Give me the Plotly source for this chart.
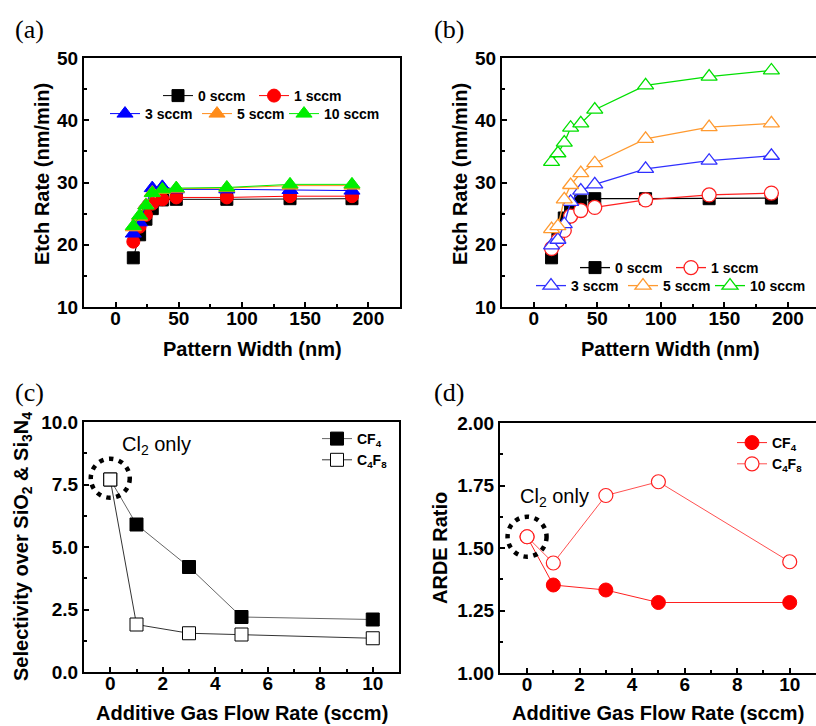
import plotly.graph_objects as go

# ---------------- data ----------------
pattern_width = [14, 19, 24, 29, 37, 48, 88, 138, 187]

a_0sccm = [17.9, 21.6, 24.1, 25.8, 27.2, 27.3, 27.3, 27.4, 27.4]
a_1sccm = [20.5, 22.9, 24.8, 26.6, 27.3, 27.6, 27.6, 27.8, 27.8]
a_3sccm = [21.8, 23.6, 26.4, 29.1, 29.3, 28.9, 28.9, 28.8, 28.7]
a_5sccm = [22.8, 24.5, 26.4, 28.4, 28.8, 29.0, 29.1, 29.5, 29.5]
a_10sccm = [23.0, 24.7, 26.3, 28.3, 28.9, 29.1, 29.2, 29.7, 29.7]

b_0sccm = [17.9, 21.5, 24.3, 26.0, 27.0, 27.4, 27.4, 27.4, 27.5]
b_1sccm = [19.4, 20.7, 22.3, 24.6, 25.5, 26.0, 27.2, 28.0, 28.3]
b_3sccm = [19.9, 20.8, 23.3, 26.9, 28.7, 29.7, 32.2, 33.5, 34.3]
b_5sccm = [22.5, 23.0, 27.3, 29.6, 31.5, 33.1, 37.0, 38.9, 39.5]
b_10sccm = [33.3, 34.7, 36.4, 38.8, 39.5, 41.7, 45.6, 47.0, 48.0]

series_labels = ["0 sccm", "1 sccm", "3 sccm", "5 sccm", "10 sccm"]

flow_rate = [0, 1, 3, 5, 10]
sel_cf4 = [7.7, 5.9, 4.2, 2.2, 2.1]
sel_c4f8 = [7.7, 1.9, 1.55, 1.5, 1.35]
arde_cf4 = [1.545, 1.352, 1.332, 1.282, 1.282]
arde_c4f8 = [1.545, 1.44, 1.71, 1.765, 1.445]

# ---------------- helpers ----------------
W, H = 816, 726
def px(x):
    return x / W
def py(y):
    return 1 - y / H

FONT = "Liberation Sans"
BOLD_TICK = dict(family=FONT, size=19, color="black", weight="bold")
BOLD_TITLE = dict(family=FONT, size=20, color="black", weight="bold")

colors = ["#000000", "#FF0000", "#0000FF", "#FF8C1A", "#00EE00"]
colors_b = ["#000000", "#FF2020", "#3030FF", "#FF9A30", "#00E000"]
symbols = ["square", "circle", "triangle-up", "triangle-up", "triangle-up"]
sizes = [12, 13, 14, 14, 14]
legend_a = ["legend", "legend", "legend2", "legend2", "legend7"]
legend_b = ["legend3", "legend3", "legend4", "legend4", "legend8"]

fig = go.Figure()

a_sets = [a_0sccm, a_1sccm, a_3sccm, a_5sccm, a_10sccm]
for i, (ys, lab) in enumerate(zip(a_sets, series_labels)):
    fig.add_trace(go.Scatter(
        x=pattern_width, y=ys, name=lab, mode="lines+markers",
        xaxis="x", yaxis="y",
        line=dict(color=colors[i], width=1),
        marker=dict(symbol=symbols[i], size=sizes[i], color=colors[i],
                    line=dict(color=colors[i], width=1)),
        legend=legend_a[i],
    ))

b_sets = [b_0sccm, b_1sccm, b_3sccm, b_5sccm, b_10sccm]
for i, (ys, lab) in enumerate(zip(b_sets, series_labels)):
    if i == 0:
        mk = dict(symbol="square", size=12, color="black", line=dict(color="black", width=1))
    else:
        mk = dict(symbol=symbols[i], size=14, color="white",
                  line=dict(color=colors_b[i], width=1.3))
    fig.add_trace(go.Scatter(
        x=pattern_width, y=ys, name=lab, mode="lines+markers",
        xaxis="x2", yaxis="y2",
        line=dict(color=colors_b[i], width=1.3),
        marker=mk,
        legend=legend_b[i],
    ))

# (c)
fig.add_trace(go.Scatter(
    x=flow_rate, y=sel_cf4, name="CF<sub>4</sub>", mode="lines+markers",
    xaxis="x3", yaxis="y3", line=dict(color="#666666", width=1),
    marker=dict(symbol="square", size=13, color="black", line=dict(color="black", width=1)),
    legend="legend5"))
fig.add_trace(go.Scatter(
    x=flow_rate, y=sel_c4f8, name="C<sub>4</sub>F<sub>8</sub>", mode="lines+markers",
    xaxis="x3", yaxis="y3", line=dict(color="#333333", width=1),
    marker=dict(symbol="square", size=13, color="white", line=dict(color="black", width=1)),
    legend="legend5"))

# (d)
fig.add_trace(go.Scatter(
    x=flow_rate, y=arde_cf4, name="CF<sub>4</sub>", mode="lines+markers",
    xaxis="x4", yaxis="y4", line=dict(color="#FF2020", width=1),
    marker=dict(symbol="circle", size=14, color="#FF0000", line=dict(color="#FF0000", width=1)),
    legend="legend6"))
fig.add_trace(go.Scatter(
    x=flow_rate, y=arde_c4f8, name="C<sub>4</sub>F<sub>8</sub>", mode="lines+markers",
    xaxis="x4", yaxis="y4", line=dict(color="#FF5050", width=1),
    marker=dict(symbol="circle", size=14, color="white", line=dict(color="#FF2020", width=1.2)),
    legend="legend6"))

def xax(domain, rng, dtick, minor_dtick, anchor, tickformat=None):
    d = dict(domain=domain, range=rng, anchor=anchor, dtick=dtick, tick0=0,
             ticks="inside", ticklen=5, tickwidth=2, tickcolor="black",
             showline=True, linecolor="black", linewidth=2, mirror=True,
             showgrid=False, zeroline=False, tickfont=BOLD_TICK, automargin=False,
             ticklabelstandoff=-7,
             minor=dict(ticks="inside", ticklen=3, tickwidth=2, dtick=minor_dtick, tickcolor="black", showgrid=False))
    if tickformat:
        d["tickformat"] = tickformat
    return d

def yax(domain, rng, dtick, minor_dtick, anchor, tickformat=None, mirror=True):
    d = dict(domain=domain, range=rng, anchor=anchor, dtick=dtick, tick0=0,
             ticks="inside", ticklen=5, tickwidth=2, tickcolor="black",
             showline=True, linecolor="black", linewidth=2, mirror=mirror,
             showgrid=False, zeroline=False, tickfont=BOLD_TICK, automargin=False,
             minor=dict(ticks="inside", ticklen=3, tickwidth=2, dtick=minor_dtick, tickcolor="black", showgrid=False))
    if tickformat:
        d["tickformat"] = tickformat
    return d

ya_dom = [py(307), py(58)]
yc_dom = [py(672), py(422)]
yd_dom = [py(673), py(423)]

def cx(x):
    return x / W

legend_common = dict(orientation="h", bgcolor="rgba(0,0,0,0)", borderwidth=0,
                     font=dict(family=FONT, size=14, color="black", weight="bold"),
                     itemwidth=30, xanchor="left", yanchor="middle",
                     xref="container", yref="container")
legend_v = dict(bgcolor="rgba(0,0,0,0)", borderwidth=0, itemwidth=30,
                font=dict(family=FONT, size=14, color="black", weight="bold"),
                xanchor="left", yanchor="top", xref="container", yref="container")

fig.update_layout(
    width=W, height=H, margin=dict(l=0, r=0, t=0, b=0, autoexpand=False),
    paper_bgcolor="white", plot_bgcolor="white",
    xaxis=xax([px(84), px(400)], [-25, 225], 50, 25, "y"),
    yaxis=yax(ya_dom, [10, 50], 10, 5, "x"),
    xaxis2=xax([px(502), 1.0], [-25, 222.1], 50, 25, "y2"),
    yaxis2=yax(ya_dom, [10, 50], 10, 5, "x2", mirror=False),
    xaxis3=xax([px(84), px(399)], [-1, 11], 2, 1, "y3"),
    yaxis3=yax(yc_dom, [0, 10], 2.5, 1.25, "x3", tickformat=".1f"),
    xaxis4=xax([px(500), 1.0], [-1.03, 11], 2, 1, "y4"),
    yaxis4=yax(yd_dom, [1, 2], 0.25, 0.125, "x4", tickformat=".2f", mirror=False),
    legend=dict(legend_common, x=cx(158), y=py(96), entrywidth=51),
    legend2=dict(legend_common, x=cx(105), y=py(114), entrywidth=47),
    legend7=dict(legend_common, x=cx(284), y=py(114)),
    legend3=dict(legend_common, x=cx(575), y=py(268), entrywidth=51),
    legend4=dict(legend_common, x=cx(531), y=py(286), entrywidth=47),
    legend8=dict(legend_common, x=cx(710), y=py(286)),
    legend5=dict(legend_v, x=cx(317), y=py(423)),
    legend6=dict(legend_v, x=cx(732), y=py(427)),
    showlegend=True,
)

# axis titles (as text annotations for exact placement)
titles = [
    ("Pattern Width (nm)", 252, 349, 0),
    ("Pattern Width (nm)", 670, 349, 0),
    ("Additive Gas Flow Rate (sccm)", 242, 713, 0),
    ("Additive Gas Flow Rate (sccm)", 658, 713, 0),
    ("Etch Rate (nm/min)", 42, 174, -90),
    ("Etch Rate (nm/min)", 460, 174, -90),
    ("Selectivity over SiO<sub>2</sub> & Si<sub>3</sub>N<sub>4</sub>", 22, 547, -90),
    ("ARDE Ratio", 440, 548, -90),
]
for txt, x, y, ang in titles:
    fig.add_annotation(text=txt, xref="paper", yref="paper", x=px(x), y=py(y),
                       showarrow=False, xanchor="center", yanchor="middle", textangle=ang,
                       font=BOLD_TITLE)

# dotted circles around the Cl2-only point
fig.add_shape(type="circle", xref="x3", yref="y3", xsizemode="pixel", ysizemode="pixel",
              xanchor=flow_rate[0], yanchor=sel_c4f8[0] + 0.05, x0=-19.5, x1=19.5, y0=-19.5, y1=19.5,
              line=dict(color="black", width=4.5, dash="4.5px,5.5px"))
fig.add_shape(type="circle", xref="x4", yref="y4", xsizemode="pixel", ysizemode="pixel",
              xanchor=flow_rate[0], yanchor=arde_c4f8[0], x0=-19.5, x1=19.5, y0=-20, y1=20,
              line=dict(color="black", width=4.5, dash="4.5px,5.5px"))

# annotations
fig.add_annotation(text="Cl<sub>2</sub> only", xref="x3", yref="y3", x=1.75, y=9.05,
                   showarrow=False, font=dict(family=FONT, size=20, color="black"))
fig.add_annotation(text="Cl<sub>2</sub> only", xref="x4", yref="y4", x=1.03, y=1.70,
                   showarrow=False, font=dict(family=FONT, size=20, color="black"))

for lab, x, y in [("(a)", 29, 30), ("(b)", 449, 30), ("(c)", 29, 392), ("(d)", 449, 392)]:
    fig.add_annotation(text=lab, xref="paper", yref="paper", x=px(x), y=py(y),
                       showarrow=False, xanchor="center", yanchor="middle",
                       font=dict(family="Liberation Serif", size=26, color="black"))

fig.write_html("out.html", config={"displayModeBar": False},
               post_script="document.body.style.margin='0px';")
